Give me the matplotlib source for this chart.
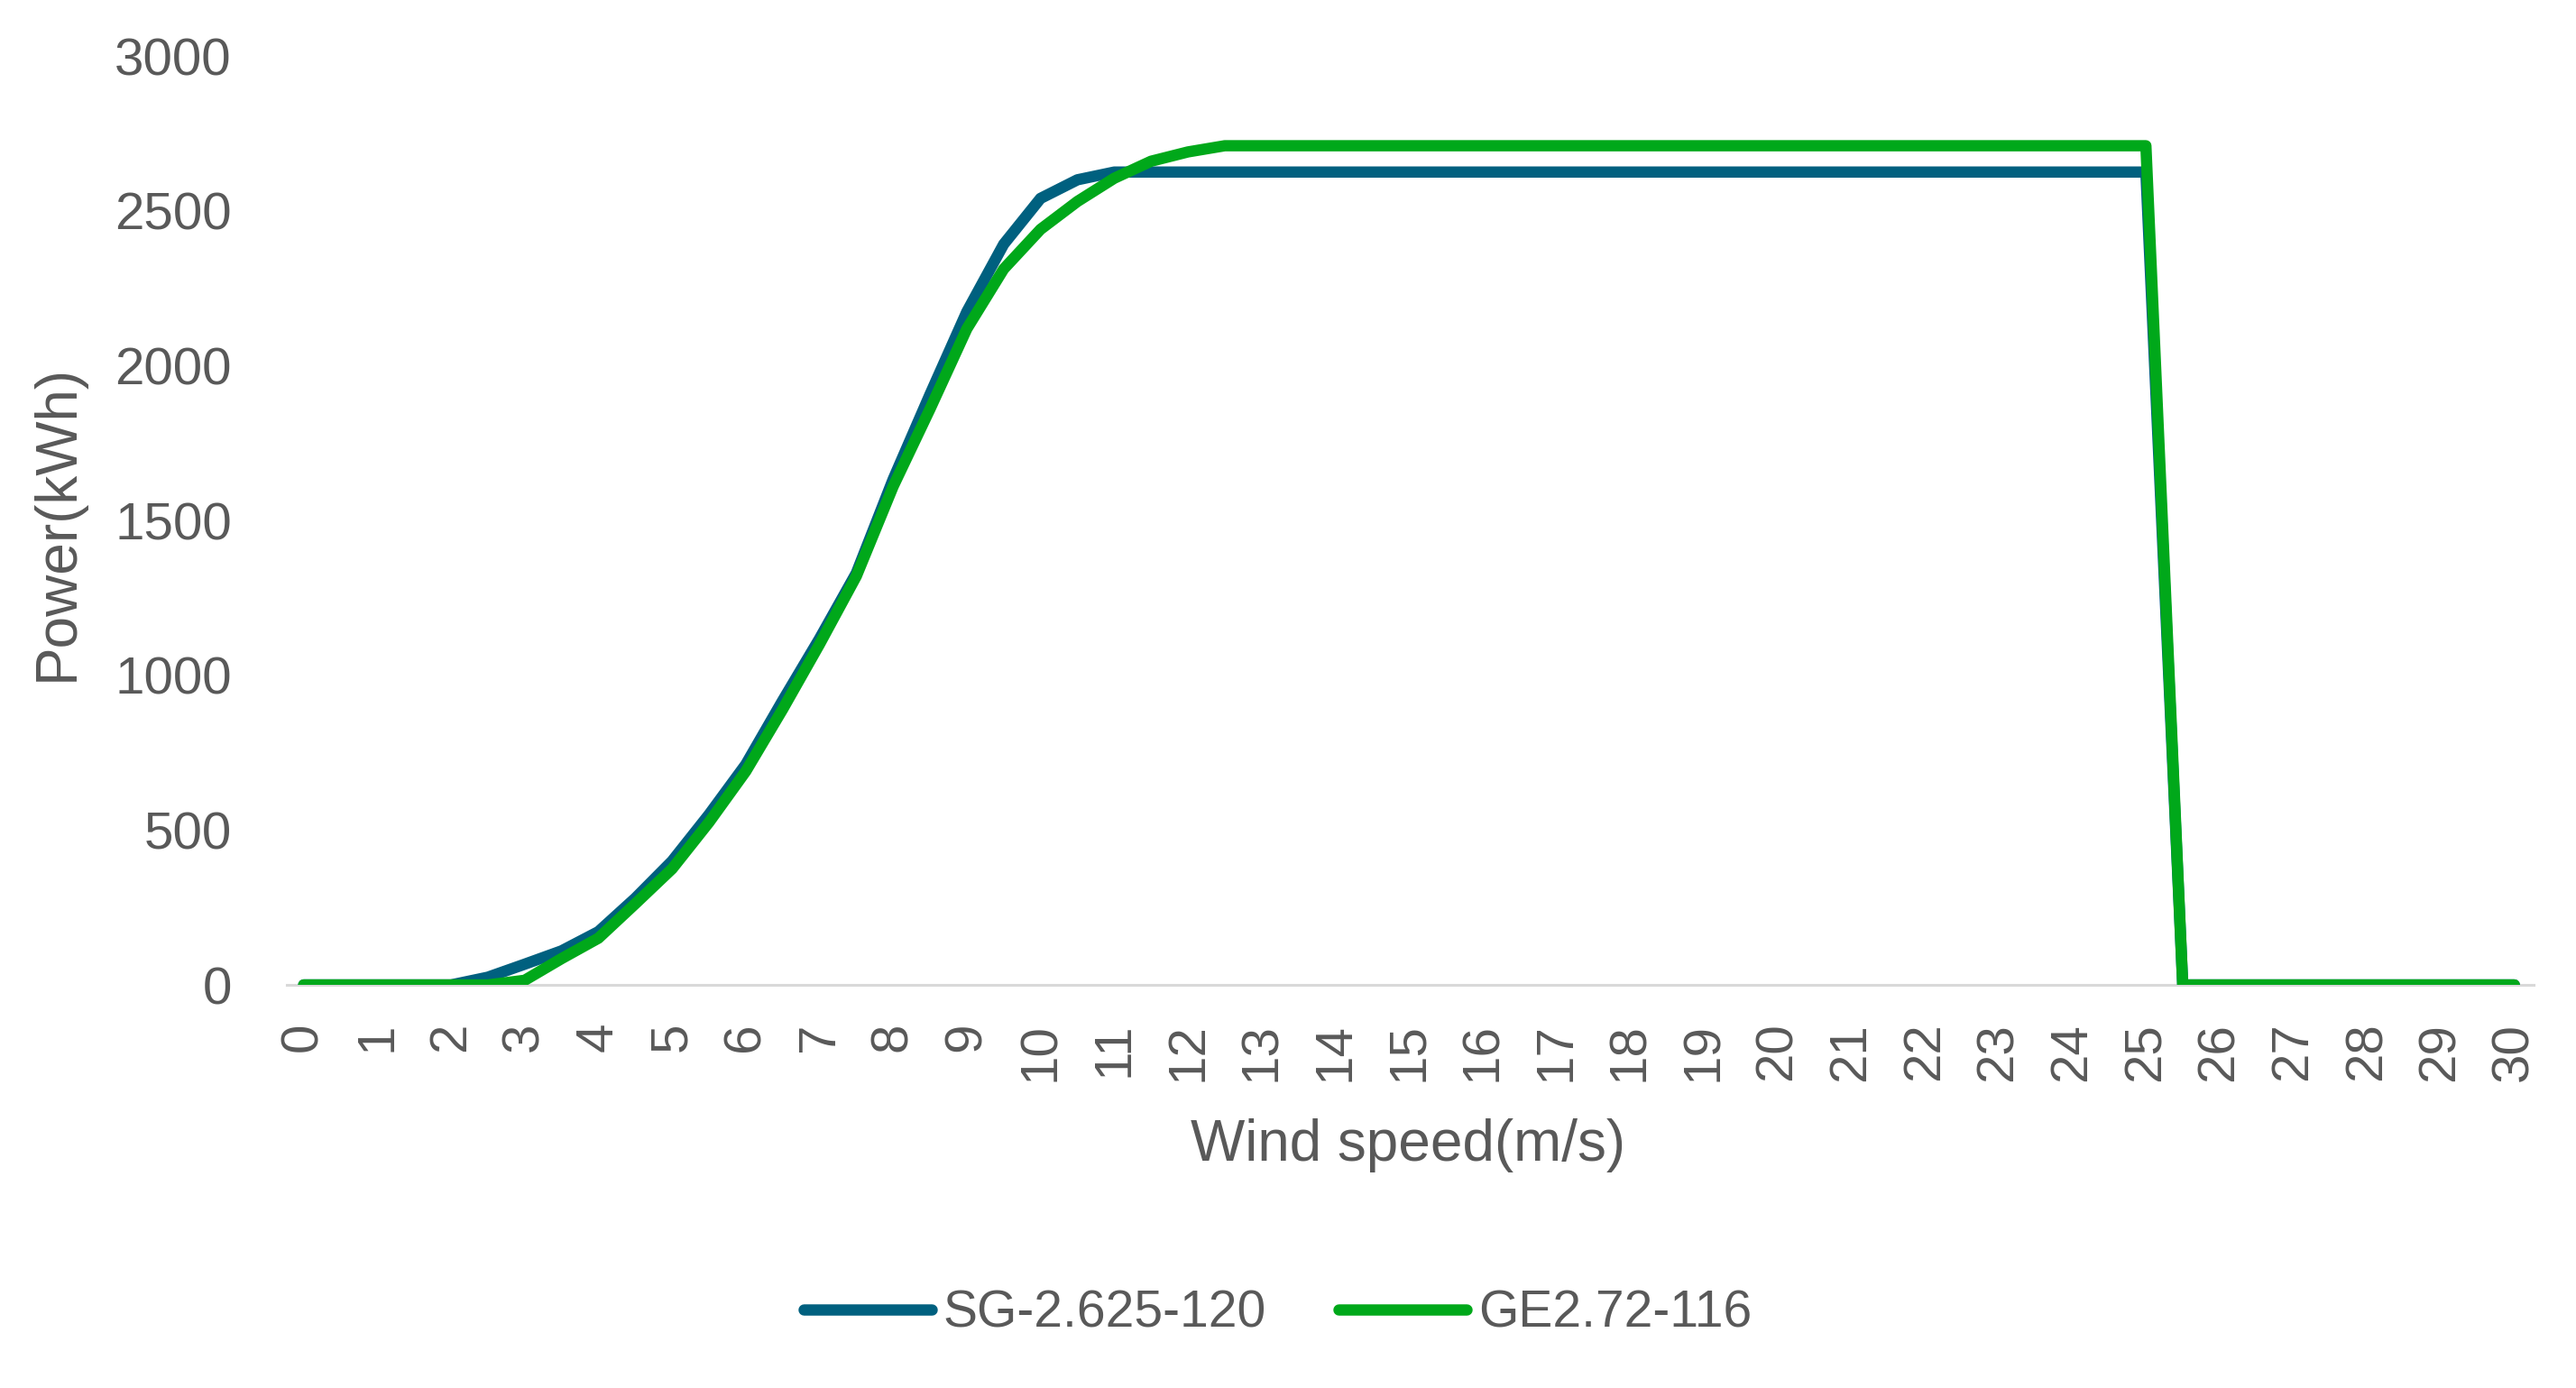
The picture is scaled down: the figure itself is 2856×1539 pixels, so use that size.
import numpy as np
import matplotlib.pyplot as plt

# wind speed steps (m/s), half a metre per second apart
wind_speed = [0, 0.5, 1, 1.5, 2, 2.5, 3, 3.5, 4, 4.5, 5, 5.5, 6, 6.5, 7, 7.5,
              8, 8.5, 9, 9.5, 10, 10.5, 11, 11.5, 12, 12.5, 13, 13.5, 14, 14.5,
              15, 15.5, 16, 16.5, 17, 17.5, 18, 18.5, 19, 19.5, 20, 20.5, 21,
              21.5, 22, 22.5, 23, 23.5, 24, 24.5, 25, 25.5, 26, 26.5, 27, 27.5,
              28, 28.5, 29, 29.5, 30]

# power curve of SG-2.625-120 (kWh)
sg_power = [0, 0, 0, 0, 0, 25, 67, 110, 172, 280, 400, 550, 712, 918, 1118,
            1330, 1633, 1907, 2174, 2392, 2540, 2600, 2625, 2625, 2625, 2625,
            2625, 2625, 2625, 2625, 2625, 2625, 2625, 2625, 2625, 2625, 2625,
            2625, 2625, 2625, 2625, 2625, 2625, 2625, 2625, 2625, 2625, 2625,
            2625, 2625, 2625, 0, 0, 0, 0, 0, 0, 0, 0, 0, 0]

# power curve of GE2.72-116 (kWh)
ge_power = [0, 0, 0, 0, 0, 0, 15, 85, 151, 262, 375, 525, 690, 890, 1100,
            1320, 1610, 1860, 2119, 2312, 2440, 2530, 2605, 2660, 2690, 2710,
            2710, 2710, 2710, 2710, 2710, 2710, 2710, 2710, 2710, 2710, 2710,
            2710, 2710, 2710, 2710, 2710, 2710, 2710, 2710, 2710, 2710, 2710,
            2710, 2710, 2710, 0, 0, 0, 0, 0, 0, 0, 0, 0, 0]

x_ticks = list(range(0, 31))
y_ticks = [0, 500, 1000, 1500, 2000, 2500, 3000]

text_grey = "#595959"
plt.rcParams["font.family"] = ["Liberation Sans", "DejaVu Sans"]

fig = plt.figure(figsize=(28.56, 15.39), dpi=100)
ax = fig.add_axes([0.1113, 0.2904, 0.8722, 0.6693])

# the two power curves, green drawn on top like the original
ax.plot(wind_speed, sg_power, color="#00607F", linewidth=9,
        solid_joinstyle="round", solid_capstyle="round", label="SG-2.625-120")
ax.plot(wind_speed, ge_power, color="#00A81A", linewidth=9,
        solid_joinstyle="round", solid_capstyle="round", label="GE2.72-116")

ax.set_xlim(-0.23, 30.26)
ax.set_ylim(0, 3000)
ax.set_xticks(x_ticks)
ax.set_yticks(y_ticks)
ax.set_xticklabels([str(t) for t in x_ticks], rotation=90)

# only a light grey baseline, no other frame
for side in ["top", "right", "left"]:
    ax.spines[side].set_visible(False)
ax.spines["bottom"].set_color("#D9D9D9")
ax.spines["bottom"].set_linewidth(2.2)
ax.spines["bottom"].set_zorder(0)

ax.tick_params(axis="x", length=0, pad=30, labelsize=42, labelcolor=text_grey)
ax.tick_params(axis="y", length=0, pad=44, labelsize=42, labelcolor=text_grey)

# axis titles
fig.text(1561 / 2856, 1 - 1270 / 1539, "Wind speed(m/s)", ha="center",
         va="center", fontsize=46, color=text_grey)
fig.text(64 / 2856, 1 - 579 / 1539, "Power(kWh)", ha="center", va="center",
         rotation=90, fontsize=46, color=text_grey)

leg = fig.legend(loc="center", bbox_to_anchor=(0.496, 1 - 1457 / 1539),
                 ncol=2, frameon=False, fontsize=41, handlelength=2.5,
                 handletextpad=0.22, columnspacing=1.4)
for txt in leg.get_texts():
    txt.set_color(text_grey)

fig.savefig("out.png", dpi=100)
